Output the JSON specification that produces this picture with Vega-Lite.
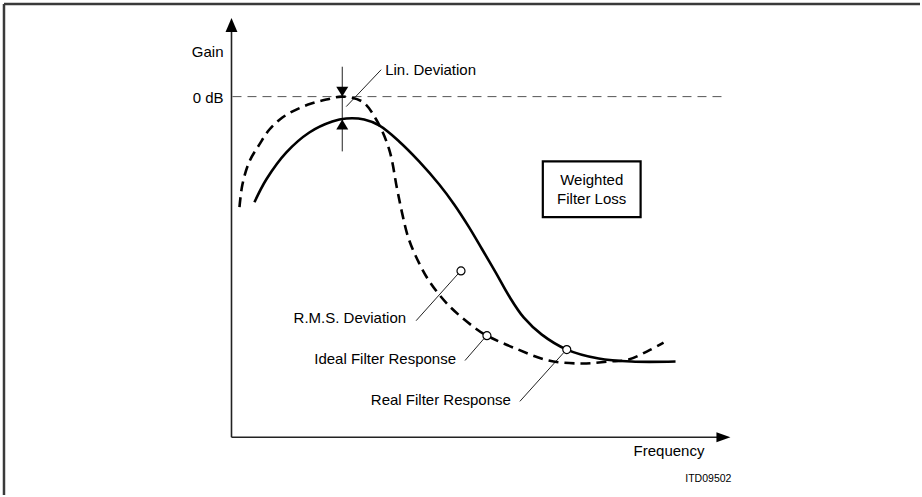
{
  "$schema": "https://vega.github.io/schema/vega-lite/v6.json",
  "width": 922,
  "height": 497,
  "autosize": {"type": "fit", "contains": "padding"},
  "padding": 0,
  "background": "white",
  "config": {"view": {"stroke": null}, "font": "Liberation Sans"},
  "datasets": {
    "frame": [
      {"x": -45.8, "y": 109, "x2": -45.8, "y2": -14.25},
      {"x": -45.8, "y": 109, "x2": 137.8, "y2": 109}
    ],
    "axes": [
      {"x": -0.2, "y": 0.25, "x2": -0.2, "y2": 103},
      {"x": -0.2, "y": 0.25, "x2": 97.8, "y2": 0.25}
    ],
    "zerodb": [
      {"x": 0, "y": 85.75, "x2": 98.4, "y2": 85.75}
    ],
    "leaders": [
      {"x": 22, "y": 93.25, "x2": 22, "y2": 72},
      {"x": 29.8, "y": 92.5, "x2": 22.8, "y2": 83.25},
      {"x": 36.8, "y": 29.5, "x2": 45.2, "y2": 41.25},
      {"x": 46.6, "y": 19.5, "x2": 50.4, "y2": 25.0},
      {"x": 57.6, "y": 9.25, "x2": 66.4, "y2": 21.5}
    ],
    "circles": [
      {"x": 45.8, "y": 42},
      {"x": 51, "y": 25.75},
      {"x": 67, "y": 22.25}
    ],
    "real": [
      {"x": 4.4, "y": 59.25}, {"x": 6.8, "y": 65}, {"x": 10.8, "y": 71.75},
      {"x": 15.4, "y": 76.75}, {"x": 20, "y": 79.5}, {"x": 22.8, "y": 80.25},
      {"x": 26.4, "y": 80}, {"x": 29.4, "y": 78.5}, {"x": 33.4, "y": 74.5},
      {"x": 37.4, "y": 69.5}, {"x": 41.4, "y": 63.75}, {"x": 44.4, "y": 58.75},
      {"x": 47.4, "y": 53}, {"x": 50, "y": 47.5}, {"x": 52.8, "y": 41.5},
      {"x": 55.4, "y": 35.75}, {"x": 58.4, "y": 30.25}, {"x": 62, "y": 26},
      {"x": 67, "y": 22.25}, {"x": 73.4, "y": 20}, {"x": 80, "y": 19.25},
      {"x": 88.8, "y": 19.25}
    ],
    "ideal": [
      {"x": 1.4, "y": 58}, {"x": 2, "y": 63.75}, {"x": 3.4, "y": 69.5},
      {"x": 5.4, "y": 73.75}, {"x": 7.4, "y": 77.5}, {"x": 10, "y": 80.5},
      {"x": 12.8, "y": 82.5}, {"x": 15.8, "y": 84}, {"x": 18.8, "y": 85},
      {"x": 22, "y": 85.75}, {"x": 26, "y": 84.5}, {"x": 28.8, "y": 80},
      {"x": 31.4, "y": 72.5}, {"x": 33, "y": 62.5}, {"x": 34, "y": 56.5},
      {"x": 35.2, "y": 50.5}, {"x": 37, "y": 45}, {"x": 39.4, "y": 39.5},
      {"x": 43.4, "y": 33.25}, {"x": 48.8, "y": 27.5}, {"x": 51, "y": 25.75},
      {"x": 56.8, "y": 22.5}, {"x": 63.4, "y": 19.5}, {"x": 70, "y": 18.75},
      {"x": 75.4, "y": 19.25}, {"x": 79.4, "y": 19.75}, {"x": 83.4, "y": 22},
      {"x": 86.4, "y": 24}
    ],
    "box": [
      {"x": 62.2, "y": 69.5, "x2": 81.8, "y2": 55.5}
    ],
    "boxtext": [
      {"x": 72, "y": 64.75, "text": "Weighted"},
      {"x": 72, "y": 60, "text": "Filter Loss"}
    ],
    "rightlabels": [
      {"x": -1.8, "y": 97, "text": "Gain"},
      {"x": -1.8, "y": 85.5, "text": "0 dB"},
      {"x": 34.8, "y": 30.25, "text": "R.M.S. Deviation"},
      {"x": 44.8, "y": 20, "text": "Ideal Filter Response"},
      {"x": 55.8, "y": 9.5, "text": "Real Filter Response"},
      {"x": 94.6, "y": -3.25, "text": "Frequency"}
    ],
    "leftlabels": [
      {"x": 30.6, "y": 92.5, "text": "Lin. Deviation"}
    ],
    "code": [
      {"x": 100, "y": -10.25, "text": "ITD09502"}
    ],
    "arrowup": [{"x": -0.2, "y": 103.75}],
    "arrowright": [{"x": 98.4, "y": 0.25}],
    "markdown": [{"x": 22, "y": 87}],
    "markup": [{"x": 22, "y": 78.75}]
  },
  "encoding": {
    "x": {"field": "x", "type": "quantitative", "scale": {"domain": [-46.6, 137.8], "nice": false, "zero": false}, "axis": null},
    "y": {"field": "y", "type": "quantitative", "scale": {"domain": [-14.25, 110], "nice": false, "zero": false}, "axis": null}
  },
  "layer": [
    {"data": {"name": "frame"}, "mark": {"type": "rule", "color": "#3a3a3a", "strokeWidth": 2.5},
     "encoding": {"x2": {"field": "x2"}, "y2": {"field": "y2"}}},
    {"data": {"name": "zerodb"}, "mark": {"type": "rule", "color": "#555555", "strokeWidth": 1, "strokeDash": [9, 6]},
     "encoding": {"x2": {"field": "x2"}, "y2": {"field": "y2"}}},
    {"data": {"name": "axes"}, "mark": {"type": "rule", "color": "#222222", "strokeWidth": 1.6},
     "encoding": {"x2": {"field": "x2"}, "y2": {"field": "y2"}}},
    {"data": {"name": "leaders"}, "mark": {"type": "rule", "color": "#222222", "strokeWidth": 1},
     "encoding": {"x2": {"field": "x2"}, "y2": {"field": "y2"}}},
    {"data": {"name": "real"}, "mark": {"type": "line", "color": "#000000", "strokeWidth": 2.6, "interpolate": "catmull-rom"},
     "encoding": {}},
    {"data": {"name": "ideal"}, "mark": {"type": "line", "color": "#000000", "strokeWidth": 2.6, "strokeDash": [10, 6], "interpolate": "catmull-rom"},
     "encoding": {}},
    {"data": {"name": "circles"}, "mark": {"type": "point", "shape": "circle", "size": 64, "filled": true, "fill": "white", "stroke": "#000000", "strokeWidth": 1.2, "opacity": 1}},
    {"data": {"name": "box"}, "mark": {"type": "rect", "fill": "white", "stroke": "#000000", "strokeWidth": 2.2},
     "encoding": {"x2": {"field": "x2"}, "y2": {"field": "y2"}}},
    {"data": {"name": "boxtext"}, "mark": {"type": "text", "fontSize": 15, "align": "center", "baseline": "middle", "color": "#000000"},
     "encoding": {"text": {"field": "text"}}},
    {"data": {"name": "rightlabels"}, "mark": {"type": "text", "fontSize": 15, "align": "right", "baseline": "middle", "color": "#000000"},
     "encoding": {"text": {"field": "text"}}},
    {"data": {"name": "leftlabels"}, "mark": {"type": "text", "fontSize": 15, "align": "left", "baseline": "middle", "color": "#000000"},
     "encoding": {"text": {"field": "text"}}},
    {"data": {"name": "code"}, "mark": {"type": "text", "fontSize": 10.5, "align": "right", "baseline": "middle", "color": "#000000"},
     "encoding": {"text": {"field": "text"}}},
    {"data": {"name": "arrowup"}, "mark": {"type": "point", "shape": "M0,-1L0.85,1L-0.85,1Z", "size": 196, "filled": true, "color": "#000000", "opacity": 1}},
    {"data": {"name": "arrowright"}, "mark": {"type": "point", "shape": "M1,0L-1,-0.72L-1,0.72Z", "size": 196, "filled": true, "color": "#000000", "opacity": 1}},
    {"data": {"name": "markdown"}, "mark": {"type": "point", "shape": "M-1,-0.83L1,-0.83L0,0.83Z", "size": 144, "filled": true, "color": "#000000", "opacity": 1}},
    {"data": {"name": "markup"}, "mark": {"type": "point", "shape": "M0,-0.83L1,0.83L-1,0.83Z", "size": 144, "filled": true, "color": "#000000", "opacity": 1}}
  ]
}
